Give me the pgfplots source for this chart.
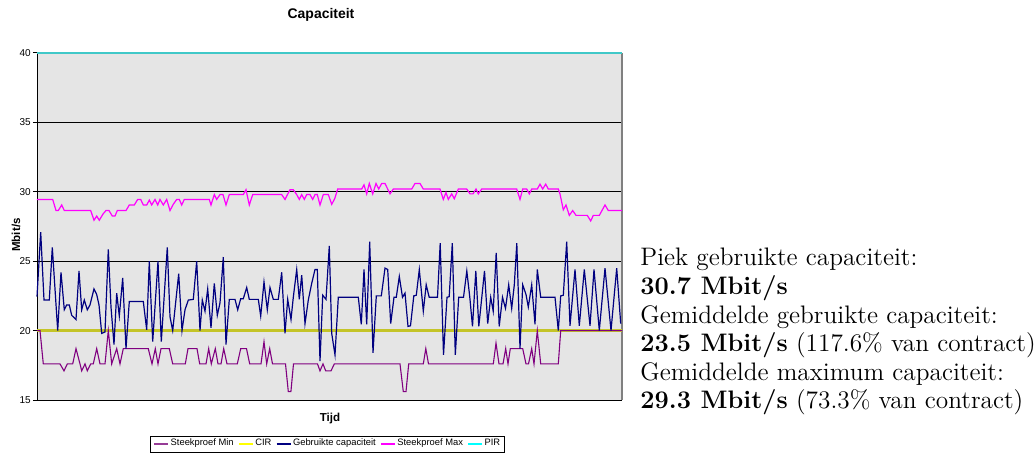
\documentclass[border=0pt]{standalone}
\usepackage{pgfplots}
\pgfplotsset{compat=1.18}
\usepackage{fontspec}
\newfontfamily\arial{Liberation Sans}
\definecolor{plotbg}{RGB}{229,229,229}
\definecolor{minc}{RGB}{128,0,128}
\definecolor{circ}{RGB}{196,196,40}
\definecolor{gebc}{RGB}{0,0,128}
\definecolor{maxc}{RGB}{255,0,255}
\definecolor{pirc}{RGB}{64,200,200}
\definecolor{cirleg}{RGB}{255,255,0}
\definecolor{pirleg}{RGB}{0,255,255}
\definecolor{minleg}{RGB}{150,60,150}
\begin{document}
\begin{tikzpicture}
\useasboundingbox (0,0) rectangle (517.5bp,227bp);
\begin{axis}[
  at={(18.5bp,27bp)}, anchor=south west,
  scale only axis, width=292.5bp, height=173.5bp,
  xmin=37, xmax=622, ymin=15, ymax=40,
  xtick=\empty,
  ytick={15,20,...,40},
  axis background/.style={fill=plotbg},
  axis x line*=bottom, axis y line*=left,
  axis line style={black, line width=0.5bp},
  tick align=outside, major tick length=2bp,
  tick style={black, line width=0.5bp},
  ymajorgrids, grid style={black, line width=0.5bp},
  yticklabel style={font=\arial\fontsize{5}{6}\selectfont, inner sep=1bp},
  /pgf/number format/assume math mode=true,
  clip=false,
  xlabel={Tijd},
  xlabel style={font=\arial\bfseries\fontsize{5.8}{7}\selectfont, at={(axis description cs:0.5009,-0.052)}, anchor=center, yshift=0pt},
  ylabel={Mbit/s},
  ylabel style={font=\arial\bfseries\fontsize{5.8}{7}\selectfont, at={(axis description cs:-0.036,0.4755)}, anchor=center, xshift=0pt},
  legend columns=5,
  legend style={at={(axis description cs:0.497,-0.127)}, anchor=center, draw=black, fill=white,
    font=\arial\fontsize{4.7}{5.6}\selectfont, inner xsep=1.5bp, inner ysep=0.8bp,
    /tikz/every even column/.append style={column sep=1.5bp}, nodes={inner sep=0.8bp}},
  legend image code/.code={\draw[#1] (0bp,0bp) -- (7bp,0bp);},
]
\addlegendimage{minleg, line width=0.7bp}
\addlegendentry{Steekproef Min}
\addlegendimage{cirleg, line width=0.7bp}
\addlegendentry{CIR}
\addlegendimage{gebc, line width=0.7bp}
\addlegendentry{Gebruikte capaciteit}
\addlegendimage{maxc, line width=0.7bp}
\addlegendentry{Steekproef Max}
\addlegendimage{pirleg, line width=0.7bp}
\addlegendentry{PIR}

\draw[gray, line width=0.6bp] (rel axis cs:1,0) -- (rel axis cs:1,1);

% CIR
\addplot[circ, line width=1.1bp, forget plot] coordinates {(37,20) (622,20)};
% Steekproef Min
\addplot[minc, line width=0.55bp, forget plot] coordinates {
(37,20.0) (40,20.0) (43.3,17.6) (60,17.6) (64,17.1) (67.3,17.6) (72.7,17.6) (76,18.7) (80,17.6) (81.7,17.1)
(85,17.6) (87.3,17.1) (90.7,17.6) (93.3,17.6) (96.7,18.7) (100,17.6) (105,17.6) (108.3,20.0) (111.7,17.6)
(116.7,18.7) (120,17.6) (123.3,18.7) (148.3,18.7) (152,17.6) (155.3,18.7) (158,17.6) (161,18.7) (169.3,18.7)
(172.7,17.6) (185.3,17.6) (188,18.7) (197,18.7) (199.7,17.6) (206,17.6) (208.7,18.7) (211.3,17.6) (215.3,18.7)
(218,17.6) (221,17.6) (223.7,18.7) (227,17.6) (237.3,17.6) (240.7,18.7) (246.5,18.7) (249.7,17.6) (261,17.6)
(264,19.2) (266.7,17.6) (269.7,18.7) (272.5,17.6) (285.5,17.6) (288.3,15.6) (290.9,15.6) (293.5,17.6)
(317.5,17.6) (320,17.1) (323,17.6) (325.7,17.1) (331,17.1) (334.3,17.6) (400,17.6) (403.3,15.6) (406,15.6)
(408.7,17.6) (423.3,17.6) (425.8,18.7) (428.5,17.6) (493.3,17.6) (496,19.1) (499,17.6) (503,17.6) (505.7,18.7)
(508,17.6) (510.3,18.7) (522.7,18.7) (526,17.6) (528.5,17.6) (531.7,18.7) (534,17.6) (537.3,20.0) (540.7,17.6)
(558.3,17.6) (560.7,20.0) (622,20.0)};
% Gebruikte capaciteit
\addplot[gebc, line width=0.6bp, forget plot] coordinates {
(37,22.45) (40.7,27.1) (44,22.2) (49.3,22.2) (52.3,26.0) (57.7,20.0) (61,24.2) (64.3,21.5) (66.7,21.85)
(69.3,21.85) (71.7,21.1) (76,20.8) (79,24.3) (81.7,21.5) (84.3,22.2) (87.3,21.5) (90,21.85) (94,23.0)
(96.7,22.6) (99,21.85) (101.7,19.8) (105,19.9) (108.3,25.85) (111,21.7) (114,19.0) (116.7,22.7) (119.3,21.05)
(122.7,23.8) (126,18.7) (129.3,22.1) (143.3,22.1) (146.7,20.05) (149.3,25.0) (152.7,19.2) (158,25.0)
(161.3,19.2) (167.3,26.0) (170,21.0) (172.7,20.0) (178.7,24.1) (182,20.0) (185,21.5) (188.3,22.2)
(193.3,22.25) (196.7,25.0) (200,20.0) (202.3,22.2) (205,21.4) (207.7,23.0) (211,20.2) (214.3,23.4)
(217.3,21.1) (220,22.0) (223.3,25.3) (226,19.0) (229.3,22.25) (235,22.25) (237.7,21.5) (240.7,22.3)
(243.3,22.3) (246.7,23.1) (249.3,22.25) (258.3,22.25) (260.7,21.05) (264,23.5) (267.3,21.5) (270,23.1)
(273.3,22.25) (278.3,22.25) (281.7,24.2) (285,19.8) (287.7,22.25) (291,20.8) (293.3,22.4) (296.7,24.4)
(299.3,22.25) (301.7,24.0) (305,20.5) (308.3,22.2) (311.7,23.4) (315,24.4) (317.3,24.4) (320,17.8)
(322.7,22.55) (326,22.25) (329.3,26.1) (331.7,19.8) (335,18.25) (338.3,22.4) (358.3,22.4) (361.3,20.45)
(364,24.4) (366.7,20.45) (369.7,26.4) (373,18.4) (376.3,22.5) (381.3,22.5) (385,24.5) (387.7,24.4)
(390.7,20.5) (394,22.4) (396.3,22.4) (399.3,23.9) (402.5,22.4) (405,22.7) (408,20.3) (410.5,20.35)
(413.8,22.5) (416.3,22.55) (419.3,24.4) (423.3,21.4) (426.2,23.3) (429.2,22.4) (437.5,22.4) (440.2,26.3)
(443.5,18.25) (447,22.4) (449.2,22.45) (452.3,26.3) (455.3,18.25) (458.7,22.4) (463.5,22.4) (466.8,24.3)
(469.8,22.4) (472.5,20.3) (475.8,24.3) (478.8,20.3) (484.5,24.3) (487.7,20.5) (490.7,22.4) (493.2,21.4)
(496.2,25.6) (499.2,20.3) (502.5,22.4) (505.5,21.6) (508.7,23.3) (511.7,21.6) (514.3,23.3) (516.8,26.3)
(520,18.7) (522.7,23.3) (526,22.6) (528.3,21.7) (531.7,23.3) (535,20.45) (537.3,24.4) (540.7,22.4)
(555,22.4) (558.3,20.0) (560.7,22.5) (563.3,22.55) (566.7,26.4) (570,20.35) (575,24.4) (579.3,20.35)
(584.3,24.4) (590,20.35) (594,24.4) (599.3,20.0) (605,24.5) (611,20.0) (616.7,24.5) (620.7,20.5)};
% Steekproef Max
\addplot[maxc, line width=0.6bp, forget plot] coordinates {
(37,29.45) (52.7,29.45) (56,28.65) (58.3,28.65) (61.7,29.05) (64.3,28.65) (90.7,28.65) (94,27.95) (96.7,28.25)
(99.3,27.95) (103,28.4) (106,28.65) (109,28.65) (112.3,28.25) (115,28.25) (117.3,28.65) (126,28.65)
(129.3,29.05) (134.3,29.05) (137.7,29.45) (140.7,29.45) (143.3,29.05) (146.7,29.05) (149.3,29.4)
(151.7,29.05) (155,29.45) (157.7,29.05) (160,29.45) (163.3,29.05) (166.7,29.45) (170,28.65) (173.3,29.1)
(176.7,29.45) (179.3,29.45) (181.7,29.05) (184.3,29.45) (209.3,29.45) (211,29.05) (214.3,29.8) (216.7,29.45)
(220,29.8) (223,29.8) (226,29.05) (229.3,29.8) (243.3,29.8) (246,30.15) (249.3,29.05) (252.7,29.8)
(281.7,29.8) (285,29.45) (290,30.15) (293.3,30.15) (296.7,29.8) (299.3,29.45) (301.7,29.8) (304.3,29.45)
(306.7,29.8) (310,29.8) (312.7,29.45) (315,29.8) (317.3,29.8) (320,29.05) (323.3,29.8) (328.3,29.8)
(331.7,29.1) (334.7,29.5) (337.7,30.2) (361.7,30.2) (364,30.5) (366.7,29.85) (369.3,30.6) (372.7,29.85)
(376,30.6) (378.7,30.2) (381.7,30.6) (385,30.6) (390,29.85) (393.3,30.2) (411.7,30.2) (415,30.6) (420,30.6)
(423.3,30.2) (440,30.2) (443.3,29.45) (446,29.95) (448.3,29.45) (451.7,29.85) (454.3,29.5) (458.3,30.2)
(466.7,30.2) (470,29.85) (473,29.85) (476,30.2) (478.3,29.85) (481.7,30.2) (516.7,30.2) (520,29.45)
(522.7,30.2) (526.7,30.2) (529.3,29.85) (531.7,30.2) (537.3,30.2) (540,30.55) (542.7,30.2) (545.7,30.55)
(548.3,30.2) (558.3,30.2) (560,29.85) (563.3,28.7) (566,29.05) (569.3,28.3) (572.7,28.65) (576,28.3)
(587.3,28.3) (590.7,27.9) (593.3,28.3) (599.3,28.3) (605,29.05) (608.3,28.65) (622,28.65)};
% PIR
\addplot[pirc, line width=1.1bp, forget plot] coordinates {(37,40) (622,40)};
\end{axis}
\node[font=\arial\bfseries\fontsize{7}{8}\selectfont, anchor=center, inner sep=0pt] at (160.5bp,219.5bp) {Capaciteit};
\begin{scope}[every node/.style={anchor=base west, inner sep=0pt, font=\fontsize{12.7}{15}\selectfont}]
\node at (320bp,94bp) {Piek gebruikte capaciteit:};
\node at (320bp,79.5bp) {\textbf{30.7 Mbit/s}};
\node at (320bp,65.3bp) {Gemiddelde gebruikte capaciteit:};
\node at (320bp,51.1bp) {\textbf{23.5 Mbit/s} (117.6\% van contract)};
\node at (320bp,36.9bp) {Gemiddelde maximum capaciteit:};
\node at (320bp,22.7bp) {\textbf{29.3 Mbit/s} (73.3\% van contract)};
\end{scope}
\end{tikzpicture}
\end{document}
